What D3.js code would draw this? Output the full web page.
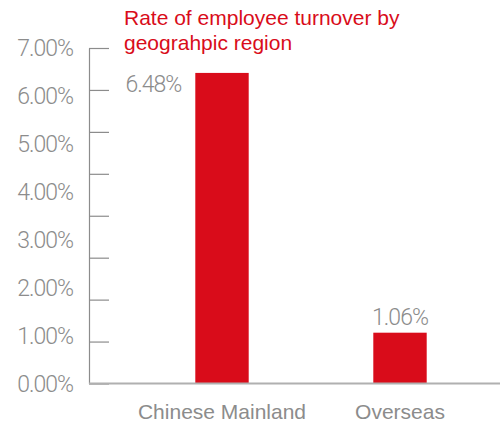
<!DOCTYPE html>
<html>
<head>
<meta charset="utf-8">
<script src="https://cdn.jsdelivr.net/npm/d3@7"></script>
<style>
  html, body { margin: 0; padding: 0; background: #fff; }
  svg { display: block; }
</style>
</head>
<body>
<svg id="chart" width="500" height="426"></svg>
<script>
// Turnover rate by region (percent)
const regions = ["Chinese Mainland", "Overseas"];
const turnover = [6.48, 1.06];
const yTickLabels = [0, 1, 2, 3, 4, 5, 6, 7];
const titleLines = ["Rate of employee turnover by", "geograhpic region"];

const width = 500, height = 426;
const axisX = 89;
const red = "#d90c1a";
const grey = "#8c8c8c";
const numFont = "Roboto, 'Liberation Sans', sans-serif";
const textFont = "'Liberation Sans', Arial, Helvetica, sans-serif";

const svg = d3.select("#chart");

const y = d3.scaleLinear().domain([0, 7]).range([383.5, 48]);

const x = d3.scaleBand()
  .domain(regions)
  .range([133, 489])
  .paddingInner(0.7)
  .paddingOuter(0.35);

// Vertical axis with tick marks pointing into the plot, eight even divisions
const tickVals = d3.range(0, 9).map(i => i * 7 / 8);
const yAxis = d3.axisRight(y)
  .tickValues(tickVals)
  .tickFormat("")
  .tickSizeInner(20)
  .tickSizeOuter(0);

const gAxis = svg.append("g")
  .attr("transform", `translate(${axisX},0)`)
  .call(yAxis);
gAxis.select(".domain").attr("stroke", grey).attr("stroke-width", 1.2);
gAxis.selectAll(".tick line").attr("stroke", grey).attr("stroke-width", 1.2);

// Percentage labels
svg.append("g")
  .selectAll("text")
  .data(yTickLabels)
  .join("text")
  .attr("x", 73)
  .attr("y", d => y(d))
  .attr("dy", "0.35em")
  .attr("text-anchor", "end")
  .attr("font-family", numFont)
  .attr("font-weight", 300)
  .attr("font-size", 23)
  .attr("letter-spacing", -1)
  .attr("fill", grey)
  .text(d => d3.format(".2f")(d) + "%");

// Bars
svg.append("g")
  .selectAll("rect")
  .data(regions)
  .join("rect")
  .attr("x", d => x(d))
  .attr("y", (d, i) => y(turnover[i]))
  .attr("width", x.bandwidth())
  .attr("height", (d, i) => y(0) - y(turnover[i]))
  .attr("fill", red);

// Baseline
svg.append("line")
  .attr("x1", axisX)
  .attr("x2", width)
  .attr("y1", y(0))
  .attr("y2", y(0))
  .attr("stroke", "#b0b0b0")
  .attr("stroke-width", 2);

// Value labels: above the bar, or beside it when the bar reaches the title area
svg.append("g")
  .selectAll("text")
  .data(regions)
  .join("text")
  .each(function (d, i) {
    const v = turnover[i];
    const top = y(v);
    const t = d3.select(this);
    if (top < 110) {
      t.attr("x", x(d) - 14).attr("y", top + 19).attr("text-anchor", "end");
    } else {
      t.attr("x", x(d) + x.bandwidth() / 2).attr("y", top - 8).attr("text-anchor", "middle");
    }
  })
  .attr("font-family", numFont)
  .attr("font-weight", 300)
  .attr("font-size", 23)
  .attr("letter-spacing", -1)
  .attr("fill", grey)
  .text((d, i) => d3.format(".2f")(turnover[i]) + "%");

// Category labels
svg.append("g")
  .selectAll("text")
  .data(regions)
  .join("text")
  .attr("x", d => x(d) + x.bandwidth() / 2)
  .attr("y", 419)
  .attr("text-anchor", "middle")
  .attr("font-family", textFont)
  .attr("font-size", 21)
  .attr("fill", grey)
  .text(d => d);

// Title
svg.append("g")
  .selectAll("text")
  .data(titleLines)
  .join("text")
  .attr("x", 124)
  .attr("y", (d, i) => 25 + i * 25)
  .attr("font-family", textFont)
  .attr("font-size", 21)
  .attr("fill", red)
  .text(d => d);
</script>
</body>
</html>
